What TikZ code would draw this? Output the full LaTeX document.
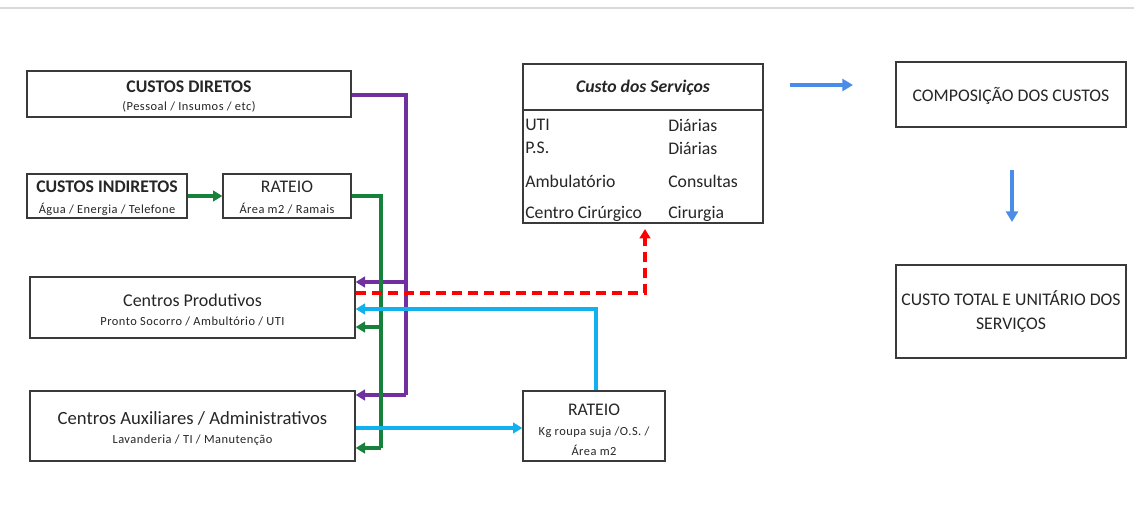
\documentclass[tikz,border=0pt]{standalone}
\usepackage{fontspec}
\setmainfont{Carlito}
\newfontfamily\spacedfont[LetterSpace=4]{Carlito}
\usetikzlibrary{arrows.meta}
\definecolor{cpurple}{HTML}{7030A0}
\definecolor{cgreen}{HTML}{17803A}
\definecolor{ccyan}{HTML}{11B0EE}
\definecolor{cblue}{HTML}{4A8CE8}
\definecolor{cframe}{HTML}{3A3A3A}
\tikzset{
  box/.style={draw=cframe, line width=1pt, inner sep=0pt, fill=white},
  lbl/.style={inner sep=0pt, text=black!85},
  big/.style={font=\fontsize{13.3}{15}\selectfont},
  bigb/.style={font=\fontsize{13.3}{15}\selectfont\bfseries},
  bigi/.style={font=\fontsize{13.3}{15}\selectfont\bfseries\itshape},
  small/.style={font=\spacedfont\fontsize{9.3}{11}\selectfont},
  conn/.style={line width=2.4pt, -{Triangle[length=7pt,width=8pt]}},
  plain/.style={line width=2.4pt},
}
\begin{document}
\begin{tikzpicture}[x=0.75pt,y=-0.75pt]
\useasboundingbox (0,0) rectangle (1134,518);
\draw[black!15, line width=0.8pt] (0,8) -- (1134,8);

% boxes
\node[box, minimum width=324*0.75pt, minimum height=46*0.75pt] (dir) at (189,94) {};
\node[lbl, bigb] (dirt) at (189,87) {CUSTOS DIRETOS};
\node[lbl, small] (dirs) at (189,107) {(Pessoal / Insumos / etc)};

\node[box, minimum width=160*0.75pt, minimum height=44*0.75pt] (ind) at (107,196) {};
\node[lbl, bigb] (indt) at (107,187) {CUSTOS INDIRETOS};
\node[lbl, small] (inds) at (107,209) {Água / Energia / Telefone};

\node[box, minimum width=128*0.75pt, minimum height=44*0.75pt] (rat1) at (287,196) {};
\node[lbl, big] (rat1t) at (287,187) {RATEIO};
\node[lbl, small] (rat1s) at (287,209) {Área m2 / Ramais};

\node[box, minimum width=325*0.75pt, minimum height=61*0.75pt] (prod) at (192.5,307.5) {};
\node[lbl, font=\fontsize{13.5}{15}\selectfont] (prodt) at (192.5,300) {Centros Produtivos};
\node[lbl, small] (prods) at (192.5,321) {Pronto Socorro / Ambultório / UTI};

\node[box, minimum width=325*0.75pt, minimum height=70*0.75pt] (aux) at (192.5,426) {};
\node[lbl, font=\fontsize{14}{16}\selectfont] (auxt) at (192.5,418) {Centros Auxiliares / Administrativos};
\node[lbl, small] (auxs) at (192.5,440) {Lavanderia / TI / Manutenção};

\node[box, minimum width=240*0.75pt, minimum height=159*0.75pt] (serv) at (643,143.5) {};
\draw[cframe, line width=1pt] (serv.west |- 0,110) coordinate (hl) -- (serv.east |- 0,110) coordinate (hr);
\node[lbl, bigi] (servt) at (643,88) {Custo dos Serviços};
\begin{scope}[every node/.style={lbl, anchor=west, font=\fontsize{13.3}{15}\selectfont}]
\node (r1a) at (525,125) {UTI};
\node (r2a) at (525,148) {P.S.};
\node (r3a) at (525,181) {Ambulatório};
\node (r4a) at (525,214) {Centro Cirúrgico};
\node (r1b) at (668,125) {Diárias};
\node (r2b) at (668,148) {Diárias};
\node (r3b) at (668,181) {Consultas};
\node (r4b) at (668,214) {Cirurgia};
\end{scope}

\node[box, minimum width=142*0.75pt, minimum height=70*0.75pt] (rat2) at (594,426) {};
\node[lbl, big] (rat2t) at (594,410) {RATEIO};
\node[lbl, small] (rat2s) at (594,432) {Kg roupa suja /O.S. /};
\node[lbl, small] (rat2u) at (594,450) {Área m2};

\node[box, minimum width=230*0.75pt, minimum height=65*0.75pt] (comp) at (1011,94.5) {};
\node[lbl, big] (compt) at (1011,96) {COMPOSIÇÃO DOS CUSTOS};

\node[box, minimum width=230*0.75pt, minimum height=93*0.75pt] (tot) at (1011,311.5) {};
\node[lbl, big, align=center] (tott) at (1011,312) {CUSTO TOTAL E UNITÁRIO DOS\\[3pt]SERVIÇOS};

% purple
\coordinate (pv1) at (406,95);
\coordinate (pv2) at (406,395);
\draw[plain, cpurple] (dir.east |- pv1) -- (pv1) -- (pv2);
\draw[conn, cpurple] (406,282) coordinate (pb1) -- (prod.east |- pb1);
\draw[conn, cpurple] (pv2) -- (aux.east |- pv2);

% green
\draw[conn, cgreen] (ind.east) -- (rat1.west);
\coordinate (gv1) at (381,196);
\coordinate (gv2) at (381,448);
\draw[plain, cgreen] (rat1.east) -- (gv1) -- (gv2);
\draw[conn, cgreen] (381,327) coordinate (gb1) -- (prod.east |- gb1);
\draw[conn, cgreen] (gv2) -- (aux.east |- gv2);

% red dashed
\coordinate (rd) at (645,293);
\coordinate (rtip) at (645,229);
\draw[line width=2.4pt, red, dash pattern=on 8pt off 4pt, -{Triangle[length=7pt,width=8pt]}] (prod.east |- rd) -- (rd) -- (rtip);

% cyan
\coordinate (cy) at (596,309);
\draw[conn, ccyan] (rat2.north -| cy) -- (cy) -- (prod.east |- cy);
\draw[conn, ccyan] (aux.east |- 0,428) coordinate (ca) -- (rat2.west |- ca);

% blue
\coordinate (b1) at (790,85);
\coordinate (b2) at (853,85);
\draw[line width=2.4pt, cblue, -{Triangle[length=8pt,width=9pt]}] (b1) -- (b2);
\coordinate (b3) at (1012,170);
\draw[line width=2.4pt, cblue, -{Triangle[length=8pt,width=9pt]}] (b3) -- (b3 |- 0,222);
\end{tikzpicture}
\end{document}
